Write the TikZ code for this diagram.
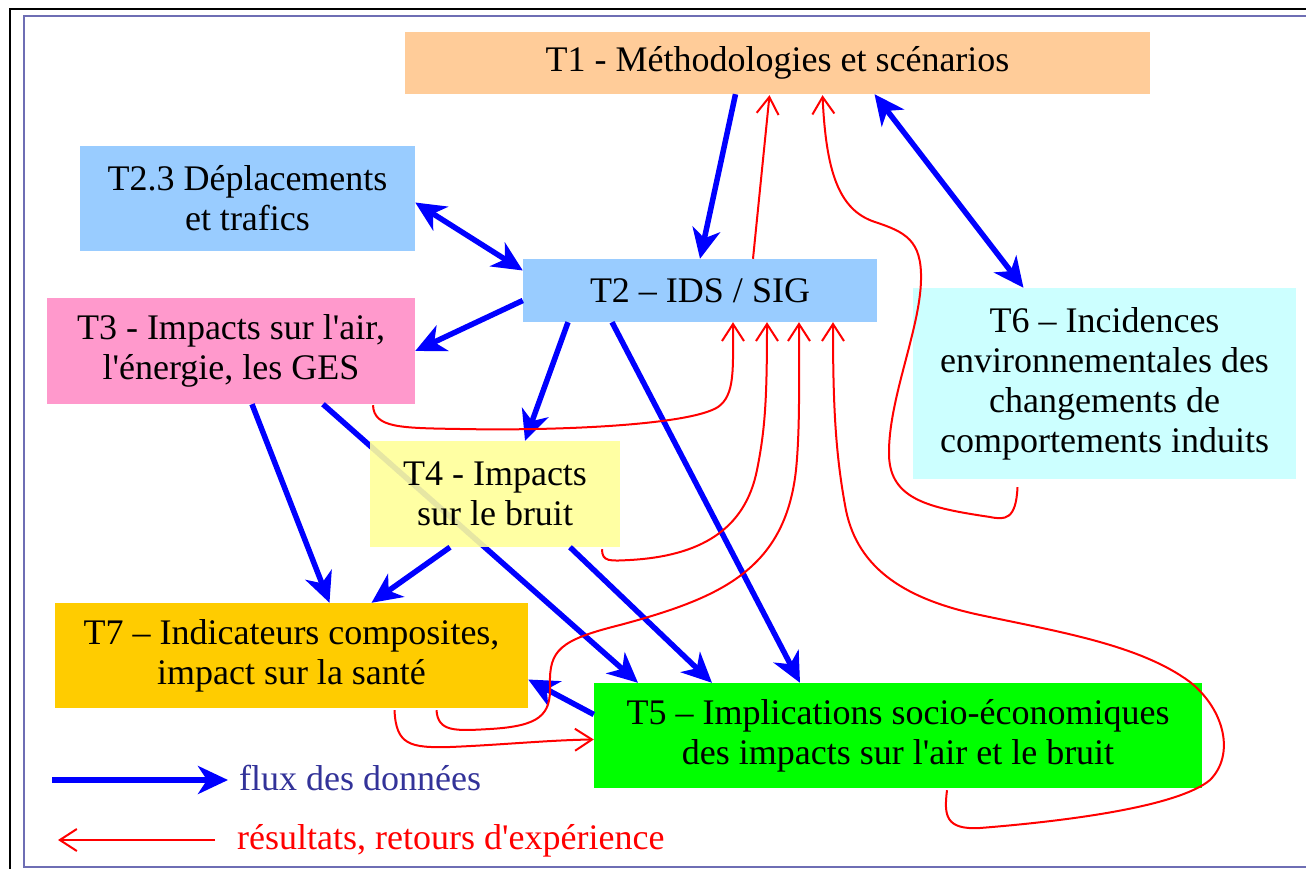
\documentclass[tikz,border=0pt]{standalone}
\usepackage{fontspec}
\setmainfont{Liberation Serif}
\usetikzlibrary{arrows.meta}
\begin{document}
\begin{tikzpicture}[x=1pt,y=-1pt]
\newcommand{\xsp}{1}
\newcommand{\ysp}{1}
\definecolor{t1color}{RGB}{255,204,153}
\definecolor{t2color}{RGB}{153,204,255}
\definecolor{t3color}{RGB}{255,153,204}
\definecolor{t4color}{RGB}{255,255,153}
\definecolor{t5color}{RGB}{0,255,0}
\definecolor{t6color}{RGB}{204,255,255}
\definecolor{t7color}{RGB}{255,204,0}
\definecolor{framecolor}{RGB}{110,110,180}
\definecolor{legendcolor}{RGB}{51,51,153}
\tikzstyle{box}=[rectangle,inner sep=0pt,align=center,font=\fontsize{36}{40}\selectfont]
\tikzstyle{legend}=[inner sep=0pt,anchor=base west,font=\fontsize{36}{40}\selectfont]
\tikzstyle{data}=[blue,line width=5.5pt,-{Stealth[length=30pt,width=28pt,inset=9pt]}]
\tikzstyle{both}=[data,{Stealth[length=30pt,width=28pt,inset=9pt]}-{Stealth[length=30pt,width=28pt,inset=9pt]}]
\tikzstyle{feedback}=[red,line width=2pt,-{Straight Barb[length=17pt,width=22pt]}]
\useasboundingbox (0,0) rectangle (1306,869);
\draw[black,line width=1.5pt] (10,869) -- (10,9) -- (1306,9);
\draw[framecolor,line width=2pt] (1306,16) -- (24,16) -- (24,867) -- (1306,867);
\node[box,fill=t1color,minimum width=745pt,minimum height=62pt] (t1) at (\xsp*777.5,\ysp*63) {T1 - Méthodologies et scénarios};
\node[box,fill=t2color,minimum width=335pt,minimum height=105pt] (t23) at (\xsp*247.5,\ysp*198.5) {T2.3 Déplacements\\et trafics};
\node[box,fill=t2color,minimum width=354pt,minimum height=63pt] (t2) at (\xsp*700,\ysp*290.5) {T2 – IDS / SIG};
\node[box,fill=t3color,minimum width=368pt,minimum height=106pt] (t3) at (\xsp*231,\ysp*351) {T3 - Impacts sur l\textquotesingle air,\\l\textquotesingle énergie, les GES};
\node[box,fill=t6color,minimum width=383pt,minimum height=191pt] (t6) at (\xsp*1104.5,\ysp*383.5) {T6 – Incidences\\environnementales des\\changements de\\comportements induits};
\node[box,fill=t7color,minimum width=473pt,minimum height=105pt] (t7) at (\xsp*291.5,\ysp*655.5) {T7 – Indicateurs composites,\\impact sur la santé};
\node[box,fill=t5color,minimum width=608pt,minimum height=105pt] (t5) at (\xsp*898,\ysp*735.5) {T5 – Implications socio-économiques\\des impacts sur l\textquotesingle air et le bruit};
\draw[data] ([xshift=92pt]t3.south) -- ([xshift=-260pt]t5.north);
\node[box,fill=t4color,fill opacity=0.9,text opacity=1,minimum width=250pt,minimum height=106pt] (t4) at (\xsp*495,\ysp*494) {T4 - Impacts\\sur le bruit};
\draw[data] ([xshift=-42pt]t1.south) -- (t2.north);
\draw[both] ([yshift=-4pt]t23.east) -- ([yshift=20pt]t2.west);
\draw[both] ([xshift=97pt]t1.south) -- ([xshift=-81pt]t6.north);
\draw[data] ([yshift=-10pt]t2.west) -- (t3.east);
\draw[data] ([xshift=-132pt]t2.south) -- ([xshift=30pt]t4.north);
\draw[data] ([xshift=-88pt]t2.south) -- ([xshift=-98pt]t5.north);
\draw[data] ([xshift=21pt]t3.south) -- ([xshift=38pt]t7.north);
\draw[data] ([xshift=-45pt]t4.south) -- ([xshift=80pt]t7.north);
\draw[data] ([xshift=75pt]t4.south) -- ([xshift=-186pt]t5.north);
\draw[data] ([yshift=21pt]t5.west) -- ([yshift=-24pt]t7.east);
\draw[feedback] ([xshift=53pt]t2.north) -- ([xshift=-8pt,yshift=-1pt]t1.south);
\draw[feedback] ([xshift=-87pt,yshift=-8pt]t6.south) .. controls (1016,520) and (1005,520) .. (990,517)
  .. controls (930,508) and (890,500) .. (889,455)
  .. controls (888,400) and (920,330) .. (921,280)
  .. controls (922,240) and (905,232) .. (875,222)
  .. controls (838,210) and (826,170) .. ([xshift=45pt,yshift=-1pt]t1.south);
\draw[feedback] ([xshift=142pt,yshift=-1pt]t3.south) .. controls (374,428) and (400,428) .. (460,429)
  .. controls (560,431) and (690,425) .. (718,407)
  .. controls (735,395) and (733,370) .. ([xshift=33pt]t2.south);
\draw[feedback] ([xshift=107pt,yshift=-2pt]t4.south) .. controls (602,562) and (610,561) .. (630,560)
  .. controls (700,556) and (745,530) .. (757,470)
  .. controls (765,430) and (767,400) .. ([xshift=67pt]t2.south);
\draw[feedback] ([xshift=145pt,yshift=-2pt]t7.south) .. controls (438,732) and (455,731) .. (490,729)
  .. controls (540,726) and (551,715) .. (550,685)
  .. controls (549,650) and (560,640) .. (620,625)
  .. controls (720,598) and (785,570) .. (796,470)
  .. controls (800,430) and (799,380) .. ([xshift=99pt]t2.south);
\draw[feedback] ([xshift=49pt,yshift=-2pt]t5.south) .. controls (944,815) and (945,830) .. (980,828)
  .. controls (1080,820) and (1180,805) .. (1210,780)
  .. controls (1235,755) and (1225,710) .. (1190,682)
  .. controls (1140,645) and (1060,632) .. (980,615)
  .. controls (900,598) and (855,565) .. (845,505)
  .. controls (835,450) and (833,400) .. ([xshift=133pt]t2.south);
\draw[feedback] ([xshift=103pt,yshift=-2pt]t7.south) .. controls (396,745) and (410,748) .. (450,747)
  .. controls (500,745) and (550,740) .. ([yshift=-4pt]t5.west);
\coordinate (fluxa) at (52,780);
\coordinate (fluxb) at (228,780);
\draw[data] (fluxa) -- (fluxb);
\node[legend,text=legendcolor] (fluxtext) at (239,790) {flux des données};
\coordinate (retoura) at (215,840);
\coordinate (retourb) at (58,840);
\draw[feedback] (retoura) -- (retourb);
\node[legend,text=red] (retourtext) at (237,849) {résultats, retours d\textquotesingle expérience};
\end{tikzpicture}
\end{document}
